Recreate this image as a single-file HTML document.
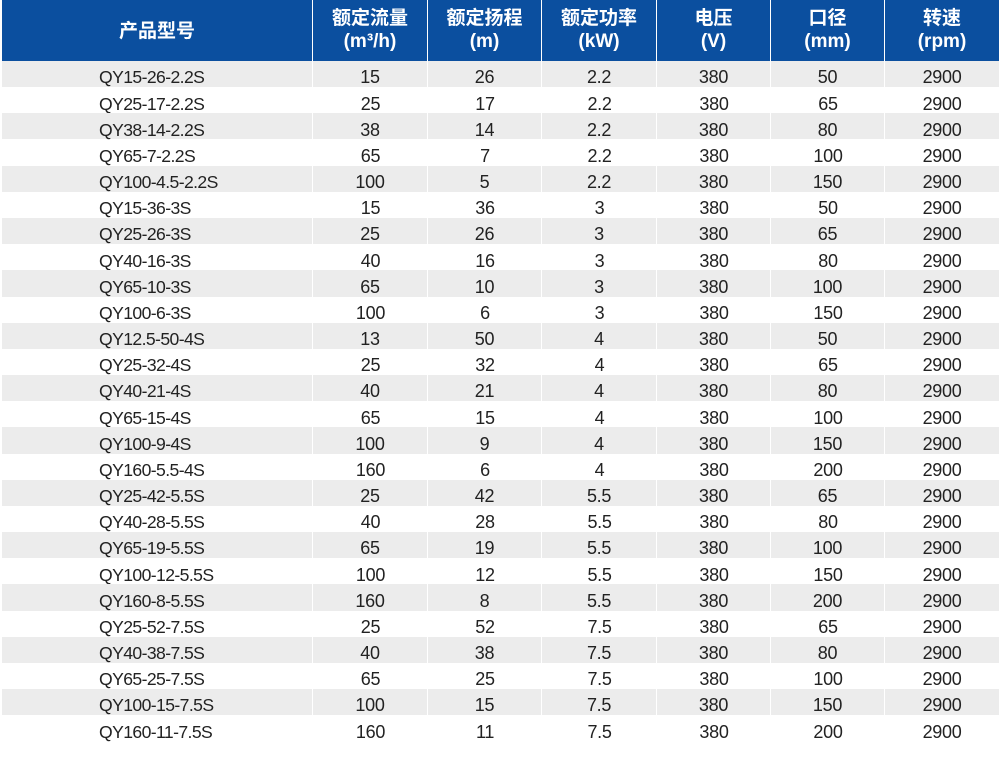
<!DOCTYPE html>
<html><head><meta charset="utf-8">
<style>
*{margin:0;padding:0;box-sizing:border-box}
html,body{width:1000px;height:758px;background:#fff;overflow:hidden}
body{position:relative;font-family:"Liberation Sans","Noto Sans CJK SC",sans-serif;color:#222}
.hdr{position:absolute;left:2px;top:0;width:997px;height:61px;background:#0b4f9f}
.hc{position:absolute;top:0;height:61px;color:#fff;font-weight:bold;font-size:19px;text-align:center;border-right:1px solid #fff}
.hc .l1{position:absolute;left:0;right:0;top:8px;line-height:22px}
.hc .l2{position:absolute;left:0;right:0;top:31px;line-height:22px}
.hc .one{position:absolute;left:0;right:0;top:21px;line-height:22px}
.row{position:absolute;left:2px;width:997px;height:26.17px}
.g{background:#ececec}
.c{position:absolute;top:0;height:100%;font-size:18px;line-height:26px;text-align:center;letter-spacing:-0.3px}
.g .c{border-right:1px solid #fff}
.c span{position:relative;top:3.4px}
.m{text-align:left;padding-left:97px;letter-spacing:-0.6px;font-size:17.6px}
</style></head><body>
<div class="hdr">
<div class="hc" style="left:0;width:311px"><div class="one">产品型号</div></div>
<div class="hc" style="left:311px;width:115px"><div class="l1">额定流量</div><div class="l2">(m³/h)</div></div>
<div class="hc" style="left:426px;width:114px"><div class="l1">额定扬程</div><div class="l2">(m)</div></div>
<div class="hc" style="left:540px;width:115px"><div class="l1">额定功率</div><div class="l2">(kW)</div></div>
<div class="hc" style="left:655px;width:114px"><div class="l1">电压</div><div class="l2">(V)</div></div>
<div class="hc" style="left:769px;width:114px"><div class="l1">口径</div><div class="l2">(mm)</div></div>
<div class="hc" style="left:883px;width:114px;border-right:none"><div class="l1">转速</div><div class="l2">(rpm)</div></div>
</div>
<div id="rows"></div>
<script>
var d=[
["QY15-26-2.2S","15","26","2.2","380","50"],
["QY25-17-2.2S","25","17","2.2","380","65"],
["QY38-14-2.2S","38","14","2.2","380","80"],
["QY65-7-2.2S","65","7","2.2","380","100"],
["QY100-4.5-2.2S","100","5","2.2","380","150"],
["QY15-36-3S","15","36","3","380","50"],
["QY25-26-3S","25","26","3","380","65"],
["QY40-16-3S","40","16","3","380","80"],
["QY65-10-3S","65","10","3","380","100"],
["QY100-6-3S","100","6","3","380","150"],
["QY12.5-50-4S","13","50","4","380","50"],
["QY25-32-4S","25","32","4","380","65"],
["QY40-21-4S","40","21","4","380","80"],
["QY65-15-4S","65","15","4","380","100"],
["QY100-9-4S","100","9","4","380","150"],
["QY160-5.5-4S","160","6","4","380","200"],
["QY25-42-5.5S","25","42","5.5","380","65"],
["QY40-28-5.5S","40","28","5.5","380","80"],
["QY65-19-5.5S","65","19","5.5","380","100"],
["QY100-12-5.5S","100","12","5.5","380","150"],
["QY160-8-5.5S","160","8","5.5","380","200"],
["QY25-52-7.5S","25","52","7.5","380","65"],
["QY40-38-7.5S","40","38","7.5","380","80"],
["QY65-25-7.5S","65","25","7.5","380","100"],
["QY100-15-7.5S","100","15","7.5","380","150"],
["QY160-11-7.5S","160","11","7.5","380","200"]];
var L=[0,311,426,540,655,769,883],W=[311,115,114,115,114,114,114];
var h="";
for(var i=0;i<d.length;i++){
 var r=d[i].concat(["2900"]);
 h+='<div class="row'+(i%2==0?' g':'')+'" style="top:'+(61+i*26.17).toFixed(2)+'px">';
 for(var j=0;j<7;j++){
  h+='<div class="c'+(j==0?' m':'')+'" style="left:'+L[j]+'px;width:'+W[j]+'px'+(j==6?';border-right:none':'')+'"><span>'+r[j]+'</span></div>';
 }
 h+='</div>';
}
document.getElementById("rows").innerHTML=h;
</script>
</body></html>
